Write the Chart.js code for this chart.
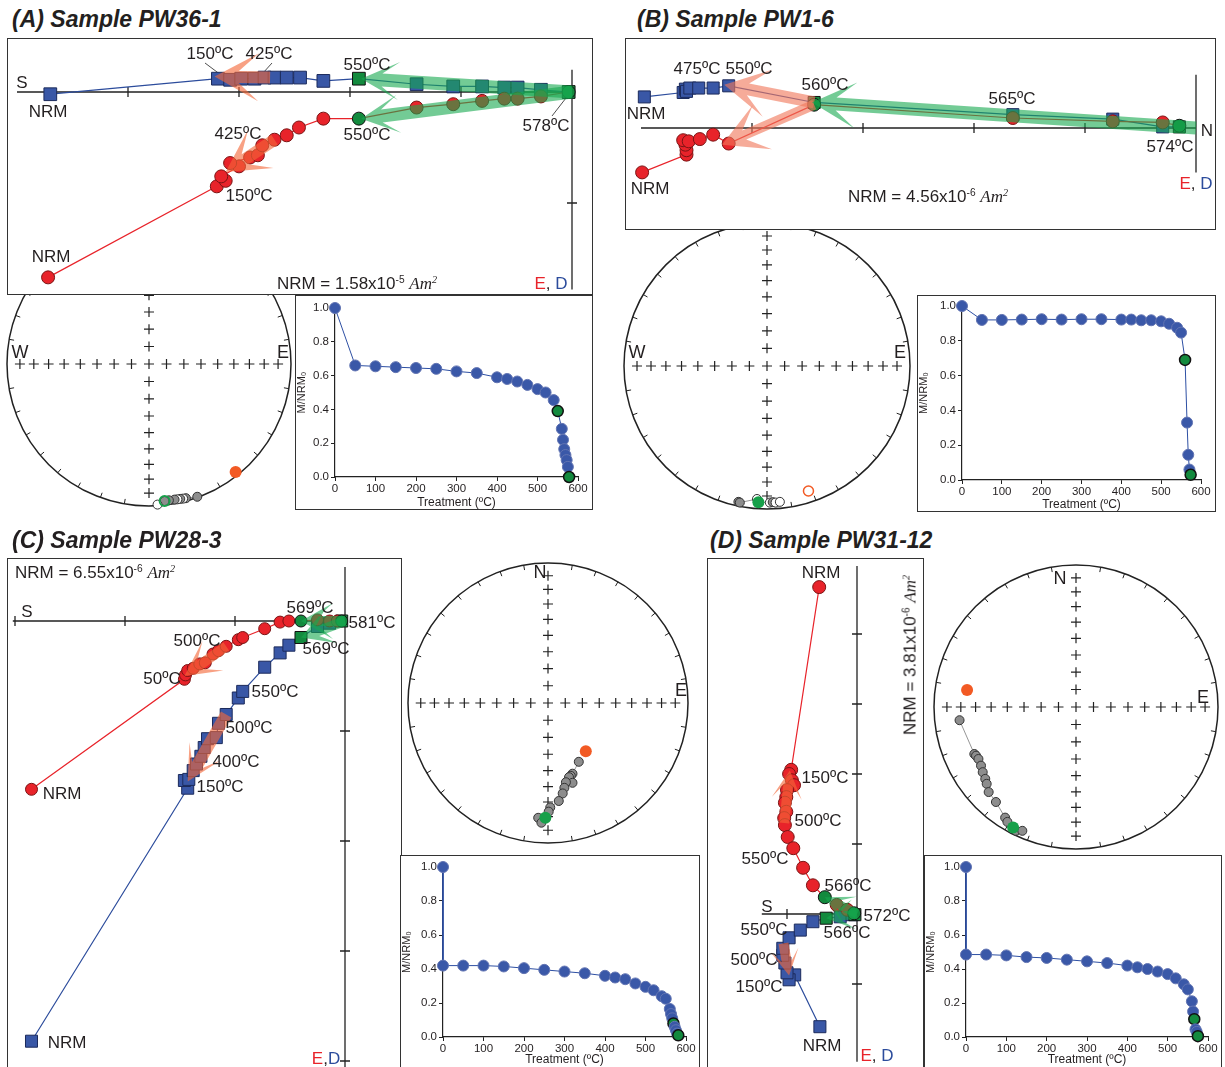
<!DOCTYPE html>
<html>
<head>
<meta charset="utf-8">
<script src="https://cdn.jsdelivr.net/npm/chart.js@4.4.0/dist/chart.umd.min.js"></script>
<style>
  body { margin:0; width:1225px; height:1067px; overflow:hidden; background:#fff; position:relative;
         font-family:"Liberation Sans", Arial, Helvetica, sans-serif; }
  .box { position:absolute; border:1.5px solid #333; background:#fff; box-sizing:border-box; z-index:2; }
  canvas { position:absolute; }
  .t { position:absolute; white-space:nowrap; line-height:1; font-size:17px; color:#231f20; z-index:6; }
  .sup { font-size:0.6em; position:relative; top:-0.6em; }
  .am { font-family:"Liberation Serif","Times New Roman",serif; font-style:italic; }
  .ttl { font-weight:bold; font-style:italic; font-size:23px; }
  .dir { font-size:18px; }
</style>
</head>
<body>
<script>
// ---- Zijderveld data (units = one axis tick) ----
// red circles = E (horizontal), blue squares = D (vertical)
var A_E = [[-4.72,-1.67],[-3.20,-0.85],[-3.12,-0.80],[-3.16,-0.76],[-3.00,-0.67],[-3.08,-0.64],[-2.90,-0.59],
  [-2.83,-0.57],[-2.79,-0.48],[-2.68,-0.43],[-2.57,-0.39],[-2.46,-0.32],[-2.24,-0.24],[-1.92,-0.24],
  [-1.40,-0.14],[-1.07,-0.11],[-0.81,-0.08],[-0.61,-0.06],[-0.49,-0.06],[-0.28,-0.04],[-0.03,0]];
var A_D = [[-4.70,-0.02],[-3.19,0.12],[-3.08,0.11],[-2.98,0.12],[-2.86,0.12],[-2.77,0.13],[-2.68,0.13],
  [-2.57,0.13],[-2.45,0.13],[-2.24,0.10],[-1.92,0.12],[-1.40,0.07],[-1.07,0.05],[-0.81,0.05],
  [-0.61,0.04],[-0.49,0.04],[-0.28,0.02],[-0.03,0]];
var A_E_GREEN = [13, 20];
var A_D_GREEN = [10, 17];

var B_E = [[-4.99,-0.40],[-4.59,-0.24],[-4.59,-0.20],[-4.60,-0.15],[-4.62,-0.11],[-4.57,-0.12],[-4.47,-0.10],
  [-4.35,-0.06],[-4.21,-0.14],[-3.44,0.21],[-1.65,0.09],[-0.75,0.06],[-0.30,0.05],[-0.15,0.02]];
var B_D = [[-4.97,0.28],[-4.62,0.32],[-4.60,0.35],[-4.59,0.33],[-4.56,0.36],[-4.48,0.36],[-4.35,0.36],
  [-4.21,0.38],[-3.44,0.23],[-1.65,0.12],[-0.75,0.08],[-0.30,0.01],[-0.15,0.01]];
var B_E_GREEN = [9, 13];
var B_D_GREEN = [8, 12];

var C_E = [[-2.85,-1.53],[-1.46,-0.53],[-1.45,-0.49],[-1.43,-0.45],[-1.38,-0.43],[-1.32,-0.39],[-1.27,-0.38],
  [-1.20,-0.30],[-1.15,-0.27],[-1.08,-0.23],[-0.97,-0.17],[-0.93,-0.15],[-0.73,-0.07],[-0.59,-0.01],
  [-0.51,0],[-0.40,0],[-0.25,0.01],[-0.14,0],[-0.07,0],[-0.03,0]];
var C_D = [[-2.85,-3.82],[-1.43,-1.52],[-1.46,-1.45],[-1.42,-1.44],[-1.38,-1.36],[-1.35,-1.30],[-1.31,-1.23],
  [-1.28,-1.15],[-1.25,-1.07],[-1.17,-1.06],[-1.15,-0.93],[-1.08,-0.85],[-0.97,-0.70],[-0.93,-0.64],
  [-0.73,-0.42],[-0.59,-0.29],[-0.51,-0.22],[-0.40,-0.15],[-0.25,-0.05],[-0.14,-0.02],[-0.03,0]];
var C_E_GREEN = [15, 19];
var C_D_GREEN = [17, 20];

var D_E = [[-0.54,4.67],[-0.94,2.06],[-0.97,2.00],[-0.93,1.91],[-0.90,1.84],[-1.00,1.77],[-1.01,1.67],
  [-1.03,1.59],[-1.01,1.46],[-1.04,1.37],[-1.03,1.27],[-0.99,1.10],[-0.91,0.94],[-0.77,0.66],
  [-0.63,0.41],[-0.46,0.24],[-0.29,0.13],[-0.14,0.06],[-0.04,0.01]];
var D_D = [[-0.53,-1.61],[-0.89,-0.87],[-0.97,-0.94],[-1.00,-0.84],[-1.03,-0.70],[-1.06,-0.59],[-1.06,-0.49],
  [-0.97,-0.34],[-0.81,-0.23],[-0.63,-0.11],[-0.44,-0.06],[-0.24,-0.04],[-0.07,-0.01],[-0.03,-0.01]];
var D_E_GREEN = [15, 18];
var D_D_GREEN = [10, 13];

// ---- stereonet data (unit circle) ----
var A_NET = [[0.34,-0.935],[0.26,-0.945],[0.24,-0.948],[0.22,-0.95],[0.2,-0.953],[0.18,-0.955],[0.14,-0.96],[0.11,-0.965],[0.06,-0.99]];
var A_NET_KIND = ['g','g','o','g','o','g','g','g','o'];
var B_NET = [[-0.20,-0.95],[-0.19,-0.955],[-0.07,-0.93],[-0.06,-0.952],[0.02,-0.955],[0.04,-0.952],[0.06,-0.955],[0.09,-0.95]];
var B_NET_KIND = ['g','g','o','g','o','g','o','o'];
var C_NET = [[0.22,-0.42],[0.175,-0.505],[0.163,-0.52],[0.15,-0.53],[0.175,-0.57],[0.128,-0.566],[0.117,-0.606],
  [0.105,-0.646],[0.077,-0.70],[0.016,-0.746],[0.005,-0.776],[-0.07,-0.82],[-0.047,-0.855]];
var D_NET = [[-0.82,-0.093],[-0.716,-0.331],[-0.704,-0.343],[-0.687,-0.366],[-0.669,-0.413],[-0.657,-0.459],
  [-0.639,-0.506],[-0.629,-0.541],[-0.615,-0.599],[-0.564,-0.669],[-0.499,-0.779],[-0.483,-0.809],[-0.424,-0.872],[-0.378,-0.872]];
var NET_GREEN = {A:[0.11,-0.965], B:[-0.06,-0.952], C:[-0.019,-0.82], D:[-0.443,-0.848]};
var NET_ORANGE = {A:[0.61,-0.76], B:[0.29,-0.874], C:[0.27,-0.345], D:[-0.767,0.119]};

// ---- demagnetisation curves ----
var A_T = [0,50,100,150,200,250,300,350,400,425,450,475,500,520,540,550,560,563,566,569,572,575,578];
var A_M = [1.0,0.66,0.655,0.65,0.645,0.64,0.625,0.615,0.59,0.58,0.565,0.545,0.52,0.5,0.455,0.39,0.285,0.22,0.165,0.13,0.1,0.06,0.0];
var B_T = [0,50,100,150,200,250,300,350,400,425,450,475,500,520,540,550,560,565,568,571,574];
var B_M = [1.0,0.92,0.92,0.922,0.924,0.922,0.924,0.924,0.922,0.922,0.918,0.918,0.912,0.898,0.875,0.847,0.69,0.33,0.145,0.06,0.03];
var C_T = [0,0,50,100,150,200,250,300,350,400,425,450,475,500,520,540,550,560,563,566,569,572,575,578,581];
var C_M = [1.0,0.42,0.42,0.42,0.415,0.405,0.395,0.385,0.375,0.36,0.35,0.34,0.315,0.295,0.275,0.24,0.225,0.165,0.135,0.11,0.08,0.06,0.04,0.02,0.01];
var D_T = [0,0,50,100,150,200,250,300,350,400,425,450,475,500,520,540,550,560,563,566,569,572,575];
var D_M = [1.0,0.485,0.485,0.48,0.47,0.465,0.455,0.445,0.435,0.42,0.41,0.40,0.385,0.37,0.345,0.31,0.28,0.21,0.15,0.105,0.045,0.03,0.005];

var RED = '#e8232a', BLUE = '#3957a6', GREEN = '#138a3e';
var OR = 'rgba(244,104,56,0.62)', OR2 = 'rgba(240,120,90,0.62)', GR = 'rgba(22,168,78,0.6)';
var FONT = '"Liberation Sans", Arial, Helvetica, sans-serif';
Chart.defaults.font.family = FONT;
Chart.defaults.color = '#231f20';

var common = {
  responsive: false, animation: false, events: [],
  plugins: { legend: { display: false }, tooltip: { enabled: false } }
};

function mkCanvas(l, t, w, h, z) {
  var c = document.createElement('canvas');
  c.width = w; c.height = h;
  c.style.left = l + 'px'; c.style.top = t + 'px';
  c.style.width = w + 'px'; c.style.height = h + 'px';
  c.style.zIndex = z;
  document.body.appendChild(c);
  return c;
}
function addBox(b) {
  var d = document.createElement('div');
  d.className = 'box';
  d.style.left = b.l + 'px'; d.style.top = b.t + 'px';
  d.style.width = b.w + 'px'; d.style.height = (b.bh || b.h) + 'px';
  document.body.appendChild(d);
}
function txt(x, y, html, opt) {
  opt = opt || {};
  var d = document.createElement('div');
  d.className = 't ' + (opt.cls || '');
  d.innerHTML = html;
  var a = opt.a || 'c';
  var tx = a === 'l' ? '0' : (a === 'r' ? '-100%' : '-50%');
  d.style.left = x + 'px'; d.style.top = y + 'px';
  d.style.transform = 'translate(' + tx + ',-50%)' + (opt.rot ? ' rotate(' + opt.rot + 'deg)' : '');
  document.body.appendChild(d);
}
function nrm(v, e) {
  return 'NRM = ' + v + 'x10<span class="sup">' + e + '</span> <span class="am">Am<span class="sup">2</span></span>';
}
var ED = '<span style="color:#e8232a">E</span>, <span style="color:#2c4c9c">D</span>';

// Zijderveld axes + arrows
function zijPlugin(p) {
  return {
    id: 'zij',
    beforeDatasetsDraw: function (chart) {
      var ctx = chart.ctx, x = chart.scales.x, y = chart.scales.y;
      var px = function (v) { return x.getPixelForValue(v); }, py = function (v) { return y.getPixelForValue(v); };
      ctx.save();
      ctx.strokeStyle = '#222'; ctx.lineWidth = 1.3;
      ctx.beginPath();
      ctx.moveTo(px(p.hAxis[0]), py(0)); ctx.lineTo(px(p.hAxis[1]), py(0));
      ctx.moveTo(px(0), py(p.vAxis[0])); ctx.lineTo(px(0), py(p.vAxis[1]));
      p.hTicks.forEach(function (t) { ctx.moveTo(px(t), py(0) - 5); ctx.lineTo(px(t), py(0) + 5); });
      p.vTicks.forEach(function (t) { ctx.moveTo(px(0) - 5, py(t)); ctx.lineTo(px(0) + 5, py(t)); });
      ctx.stroke();
      ctx.lineWidth = 0.8;
      (p.leaders || []).forEach(function (L) {
        ctx.beginPath();
        ctx.moveTo(L[0] - p.box.l, L[1] - p.box.t); ctx.lineTo(L[2] - p.box.l, L[3] - p.box.t);
        ctx.stroke();
      });
      ctx.restore();
    },
    afterDatasetsDraw: function (chart) {
      var ctx = chart.ctx, x = chart.scales.x, y = chart.scales.y;
      p.arrows.forEach(function (a) {
        var sx = x.getPixelForValue(a.from[0]), sy = y.getPixelForValue(a.from[1]);
        var tx = x.getPixelForValue(a.to[0]), ty = y.getPixelForValue(a.to[1]);
        var len = Math.hypot(tx - sx, ty - sy), ux = (tx - sx) / len, uy = (ty - sy) / len;
        var nx = -uy, ny = ux, hw = a.w / 2;
        var bx = tx - ux * a.head, by = ty - uy * a.head;
        var mx = tx - ux * a.head * 0.55, my = ty - uy * a.head * 0.55;
        ctx.save();
        ctx.fillStyle = a.col;
        ctx.beginPath();
        if (len > a.head * 0.55) {
          ctx.moveTo(sx + nx * hw, sy + ny * hw);
          ctx.lineTo(mx + nx * hw, my + ny * hw);
        } else {
          ctx.moveTo(mx, my);
        }
        ctx.lineTo(bx + nx * a.hw, by + ny * a.hw);
        ctx.lineTo(tx, ty);
        ctx.lineTo(bx - nx * a.hw, by - ny * a.hw);
        if (len > a.head * 0.55) {
          ctx.lineTo(mx - nx * hw, my - ny * hw);
          ctx.lineTo(sx - nx * hw, sy - ny * hw);
        } else {
          ctx.lineTo(mx, my);
        }
        ctx.closePath();
        ctx.fill();
        ctx.restore();
      });
    }
  };
}

function zijPanel(p) {
  var b = p.box;
  addBox(b);
  var c = mkCanvas(b.l, b.t, b.w, b.h, 3);
  var isG = function (list) { return function (_, i) { return list.indexOf(i) >= 0; }; };
  var gE = isG(p.eGreen), gD = isG(p.dGreen);
  new Chart(c, {
    type: 'scatter',
    data: { datasets: [
      { data: p.E.map(function (v) { return { x: v[0], y: v[1] }; }), showLine: true, clip: false,
        borderColor: RED, borderWidth: 1.2, pointStyle: 'circle', pointRadius: p.rE,
        pointBackgroundColor: p.E.map(function (v, i) { return gE(v, i) ? GREEN : RED; }),
        pointBorderColor: p.E.map(function (v, i) { return gE(v, i) ? '#111' : '#7a1414'; }),
        pointBorderWidth: 1 },
      { data: p.D.map(function (v) { return { x: v[0], y: v[1] }; }), showLine: true, clip: false,
        borderColor: '#2c4c9c', borderWidth: 1.2, pointStyle: 'rect', pointRadius: p.rD,
        pointBackgroundColor: p.D.map(function (v, i) { return gD(v, i) ? GREEN : BLUE; }),
        pointBorderColor: p.D.map(function (v, i) { return gD(v, i) ? '#111' : '#1c2b5c'; }),
        pointBorderWidth: 1 }
    ] },
    options: Object.assign({}, common, {
      layout: { padding: 0, autoPadding: false },
      scales: {
        x: { type: 'linear', display: false, min: (b.l - p.org.x) / p.unit, max: (b.l + b.w - p.org.x) / p.unit },
        y: { type: 'linear', display: false, min: (p.org.y - (b.t + b.h)) / p.unit, max: (p.org.y - b.t) / p.unit }
      }
    }),
    plugins: [zijPlugin(p)]
  });
}

// stereonet frame
var netPlugin = {
  id: 'net',
  beforeDatasetsDraw: function (chart) {
    var ctx = chart.ctx, x = chart.scales.x, y = chart.scales.y;
    var cx = x.getPixelForValue(0), cy = y.getPixelForValue(0), R = x.getPixelForValue(1) - cx;
    ctx.save();
    ctx.strokeStyle = '#222';
    ctx.lineWidth = 1.5;
    ctx.beginPath(); ctx.arc(cx, cy, R, 0, 2 * Math.PI); ctx.stroke();
    ctx.lineWidth = 1;
    ctx.beginPath();
    for (var d = 0; d < 360; d += 10) {
      if (d % 90 === 0) continue;
      var a = d * Math.PI / 180;
      ctx.moveTo(cx + R * Math.sin(a), cy - R * Math.cos(a));
      ctx.lineTo(cx + (R - 5) * Math.sin(a), cy - (R - 5) * Math.cos(a));
    }
    ctx.stroke();
    var rs = [];
    for (var inc = 80; inc >= 10; inc -= 10) rs.push(Math.SQRT2 * Math.sin((90 - inc) / 2 * Math.PI / 180));
    var pts = [[0, 0]];
    rs.forEach(function (r) { pts.push([r, 0], [-r, 0], [0, r], [0, -r]); });
    ctx.lineWidth = 1.2;
    ctx.beginPath();
    pts.forEach(function (q) {
      var qx = cx + q[0] * R, qy = cy - q[1] * R;
      ctx.moveTo(qx - 5, qy); ctx.lineTo(qx + 5, qy);
      ctx.moveTo(qx, qy - 5); ctx.lineTo(qx, qy + 5);
    });
    ctx.stroke();
    ctx.restore();
  }
};

function stereo(s) {
  var S = 300, k = (S / 2) / s.r;
  var c = mkCanvas(s.cx - S / 2, s.cy - S / 2, S, S, 1);
  var ds = [
    { data: [{ x: s.green[0], y: s.green[1] }], pointRadius: s.greenOpen ? 5 : 6,
      pointBackgroundColor: s.greenOpen ? 'rgba(0,0,0,0)' : '#17a04a', pointBorderColor: '#17a04a',
      pointBorderWidth: s.greenOpen ? 2 : 0 },
    { data: [{ x: s.orange[0], y: s.orange[1] }], pointRadius: s.orangeOpen ? 5 : 6,
      pointBackgroundColor: s.orangeOpen ? '#fff' : '#f25a24', pointBorderColor: '#f25a24',
      pointBorderWidth: s.orangeOpen ? 1.5 : 0 },
    { data: s.pts.map(function (v) { return { x: v[0], y: v[1] }; }), showLine: true,
      borderColor: '#8a8a8a', borderWidth: 0.9, pointRadius: 4.5,
      pointBackgroundColor: s.pts.map(function (v, i) { return (s.kind && s.kind[i] === 'o') ? '#fff' : '#8d8d8d'; }),
      pointBorderColor: '#333', pointBorderWidth: 1 }
  ];
  new Chart(c, {
    type: 'scatter',
    data: { datasets: ds },
    options: Object.assign({}, common, {
      layout: { padding: 0, autoPadding: false },
      scales: {
        x: { type: 'linear', display: false, min: -k, max: k },
        y: { type: 'linear', display: false, min: -k, max: k }
      }
    }),
    plugins: [netPlugin]
  });
}

function demag(d) {
  var b = d.box;
  addBox(b);
  var c = mkCanvas(b.l, b.t, b.w, b.ch || b.h, 3);
  var isG = function (i) { return d.green.indexOf(i) >= 0; };
  var axisCommon = {
    type: 'linear',
    grid: { drawOnChartArea: false, color: '#222', tickLength: 4, lineWidth: 1 },
    border: { color: '#222', width: 1.2 }
  };
  new Chart(c, {
    type: 'scatter',
    data: { datasets: [{
      data: d.T.map(function (t, i) { return { x: t, y: d.M[i] }; }),
      showLine: true, clip: false, borderColor: '#2d4fa3', borderWidth: 1, pointRadius: 5.5,
      pointBackgroundColor: d.T.map(function (t, i) { return isG(i) ? GREEN : '#3a58a8'; }),
      pointBorderColor: d.T.map(function (t, i) { return isG(i) ? '#111' : '#6274b2'; }),
      pointBorderWidth: d.T.map(function (t, i) { return isG(i) ? 1.5 : 1; })
    }] },
    options: Object.assign({}, common, {
      layout: { padding: { top: d.pad.t, right: d.pad.r, left: 0, bottom: 0 }, autoPadding: false },
      scales: {
        x: Object.assign({}, axisCommon, {
          min: 0, max: 600,
          ticks: { stepSize: 100, color: '#231f20', font: { size: 11.5 }, padding: 1, maxRotation: 0 },
          title: { display: true, text: 'Treatment (ºC)', color: '#231f20', font: { size: 12 }, padding: { top: 0, bottom: 0 } },
          afterFit: function (s) { s.height = d.pad.b; }
        }),
        y: Object.assign({}, axisCommon, {
          min: 0, max: 1,
          ticks: { stepSize: 0.2, color: '#231f20', font: { size: 11.5 }, padding: 2,
                   callback: function (v) { return v.toFixed(1); } },
          title: { display: true, text: 'M/NRM₀', color: '#231f20', font: { size: 11 }, padding: { top: 0, bottom: 1 } },
          afterFit: function (s) { s.width = d.pad.l; }
        })
      }
    })
  });
}

// ---------- stereonets (drawn first, under the boxes) ----------
stereo({ cx: 149, cy: 364, r: 142, pts: A_NET, kind: A_NET_KIND, green: NET_GREEN.A, greenOpen: true, orange: NET_ORANGE.A });
stereo({ cx: 767, cy: 366, r: 143, pts: B_NET, kind: B_NET_KIND, green: NET_GREEN.B, orange: NET_ORANGE.B, orangeOpen: true });
stereo({ cx: 548, cy: 703, r: 140, pts: C_NET, green: NET_GREEN.C, orange: NET_ORANGE.C });
stereo({ cx: 1076, cy: 707, r: 142, pts: D_NET, green: NET_GREEN.D, orange: NET_ORANGE.D });

// ---------- Zijderveld diagrams ----------
zijPanel({ box: { l: 7, t: 38, w: 586, h: 257 }, org: { x: 572, y: 92 }, unit: 111,
  E: A_E, D: A_D, eGreen: A_E_GREEN, dGreen: A_D_GREEN, rE: 6.5, rD: 9,
  hAxis: [-5.0, 0], vAxis: [0.2, -1.78], hTicks: [-1, -2, -3, -4], vTicks: [-1],
  leaders: [[205, 63, 221, 75], [272, 63, 263, 73], [552, 116, 566, 98]],
  arrows: [
    { from: [-2.72, 0.13], to: [-3.22, 0.14], col: OR, w: 12, head: 44, hw: 24 },
    { from: [-2.68, -0.43], to: [-3.12, -0.72], col: OR, w: 12, head: 42, hw: 23 },
    { from: [0, 0], to: [-1.90, 0.12], col: GR, w: 13, head: 38, hw: 19 },
    { from: [0, 0], to: [-1.90, -0.24], col: GR, w: 13, head: 38, hw: 19 }
  ] });

zijPanel({ box: { l: 625, t: 38, w: 591, h: 192 }, org: { x: 1196, y: 128 }, unit: 111,
  E: B_E, D: B_D, eGreen: B_E_GREEN, dGreen: B_D_GREEN, rE: 6.5, rD: 8.5,
  hAxis: [-5.0, 0], vAxis: [0.48, -0.40], hTicks: [-1, -2, -3, -4], vTicks: [],
  arrows: [
    { from: [-3.44, 0.23], to: [-4.25, 0.39], col: OR2, w: 12, head: 44, hw: 24 },
    { from: [-3.44, 0.21], to: [-4.27, -0.15], col: OR2, w: 10, head: 44, hw: 24 },
    { from: [0, 0], to: [-3.46, 0.23], col: GR, w: 13, head: 44, hw: 23 }
  ] });

zijPanel({ box: { l: 7, t: 558, w: 395, h: 512 }, org: { x: 345, y: 621 }, unit: 110,
  E: C_E, D: C_D, eGreen: C_E_GREEN, dGreen: C_D_GREEN, rE: 6, rD: 8.5,
  hAxis: [-3.02, 0], vAxis: [0.49, -4.1], hTicks: [-1, -2, -3], vTicks: [-1, -2, -3, -4],
  arrows: [
    { from: [-1.08, -0.23], to: [-1.46, -0.50], col: OR, w: 10, head: 35, hw: 18 },
    { from: [-1.08, -0.85], to: [-1.43, -1.46], col: OR, w: 12, head: 35, hw: 18 },
    { from: [0, 0], to: [-0.40, 0.0], col: GR, w: 10, head: 32, hw: 18 },
    { from: [0, 0], to: [-0.40, -0.15], col: GR, w: 10, head: 32, hw: 18 }
  ] });

zijPanel({ box: { l: 707, t: 558, w: 217, h: 512 }, org: { x: 857, y: 914 }, unit: 70,
  E: D_E, D: D_D, eGreen: D_E_GREEN, dGreen: D_D_GREEN, rE: 6.5, rD: 8.5,
  hAxis: [-1.36, 0], vAxis: [4.97, -2.11], hTicks: [-1], vTicks: [4, 3, 2, 1, -1],
  arrows: [
    { from: [-1.04, 1.30], to: [-0.96, 2.05], col: OR, w: 10, head: 28, hw: 15 },
    { from: [-1.05, -0.42], to: [-0.97, -0.88], col: OR, w: 10, head: 26, hw: 14 },
    { from: [0, 0], to: [-0.46, 0.24], col: GR, w: 9, head: 28, hw: 15 },
    { from: [0, 0], to: [-0.44, -0.06], col: GR, w: 9, head: 28, hw: 15 }
  ] });

// ---------- demagnetisation curves ----------
demag({ box: { l: 295, t: 295, w: 298, h: 215 }, pad: { l: 40, r: 15, t: 13, b: 33 }, T: A_T, M: A_M, green: [15, 22] });
demag({ box: { l: 917, t: 295, w: 299, h: 217 }, pad: { l: 45, r: 15, t: 11, b: 32 }, T: B_T, M: B_M, green: [16, 20] });
demag({ box: { l: 400, t: 855, w: 300, h: 212, bh: 216 }, pad: { l: 43, r: 14, t: 12, b: 30 }, T: C_T, M: C_M, green: [20, 24] });
demag({ box: { l: 924, t: 855, w: 298, h: 212, bh: 216 }, pad: { l: 42, r: 14, t: 12, b: 30 }, T: D_T, M: D_M, green: [19, 22] });

// ---------- text ----------
txt(12, 19, '(A) Sample PW36-1', { a: 'l', cls: 'ttl' });
txt(637, 19, '(B) Sample PW1-6', { a: 'l', cls: 'ttl' });
txt(12, 540, '(C) Sample PW28-3', { a: 'l', cls: 'ttl' });
txt(710, 540, '(D) Sample PW31-12', { a: 'l', cls: 'ttl' });

// A
txt(22, 82, 'S'); txt(48, 111, 'NRM'); txt(51, 256, 'NRM');
txt(210, 53, '150ºC'); txt(269, 53, '425ºC'); txt(367, 64, '550ºC'); txt(367, 134, '550ºC');
txt(546, 125, '578ºC'); txt(238, 133, '425ºC'); txt(249, 195, '150ºC');
txt(357, 283, nrm('1.58', '-5')); txt(551, 283, ED);
txt(20, 352, 'W', { cls: 'dir' }); txt(283, 352, 'E', { cls: 'dir' });
// B
txt(697, 68, '475ºC'); txt(749, 68, '550ºC'); txt(825, 84, '560ºC'); txt(1012, 98, '565ºC');
txt(1170, 146, '574ºC'); txt(646, 113, 'NRM'); txt(650, 188, 'NRM'); txt(1207, 130, 'N');
txt(928, 196, nrm('4.56', '-6')); txt(1196, 183, ED);
txt(637, 352, 'W', { cls: 'dir' }); txt(900, 352, 'E', { cls: 'dir' });
// C
txt(15, 572, nrm('6.55', '-6'), { a: 'l' });
txt(27, 611, 'S'); txt(310, 607, '569ºC'); txt(372, 622, '581ºC'); txt(326, 648, '569ºC');
txt(197, 640, '500ºC'); txt(162, 678, '50ºC'); txt(275, 691, '550ºC'); txt(249, 727, '500ºC');
txt(236, 761, '400ºC'); txt(220, 786, '150ºC'); txt(62, 793, 'NRM'); txt(67, 1042, 'NRM');
txt(326, 1058, '<span style="color:#e8232a">E</span>,<span style="color:#2c4c9c">D</span>');
txt(540, 572, 'N', { cls: 'dir' }); txt(681, 690, 'E', { cls: 'dir' });
// D
txt(821, 572, 'NRM'); txt(825, 777, '150ºC'); txt(818, 820, '500ºC'); txt(765, 858, '550ºC');
txt(848, 885, '566ºC'); txt(887, 915, '572ºC'); txt(847, 932, '566ºC'); txt(764, 929, '550ºC');
txt(754, 959, '500ºC'); txt(759, 986, '150ºC'); txt(822, 1045, 'NRM'); txt(877, 1055, ED);
txt(767, 906, 'S');
txt(910, 655, nrm('3.81', '-6'), { rot: -90 });
txt(1060, 578, 'N', { cls: 'dir' }); txt(1203, 697, 'E', { cls: 'dir' });
</script>
</body>
</html>
